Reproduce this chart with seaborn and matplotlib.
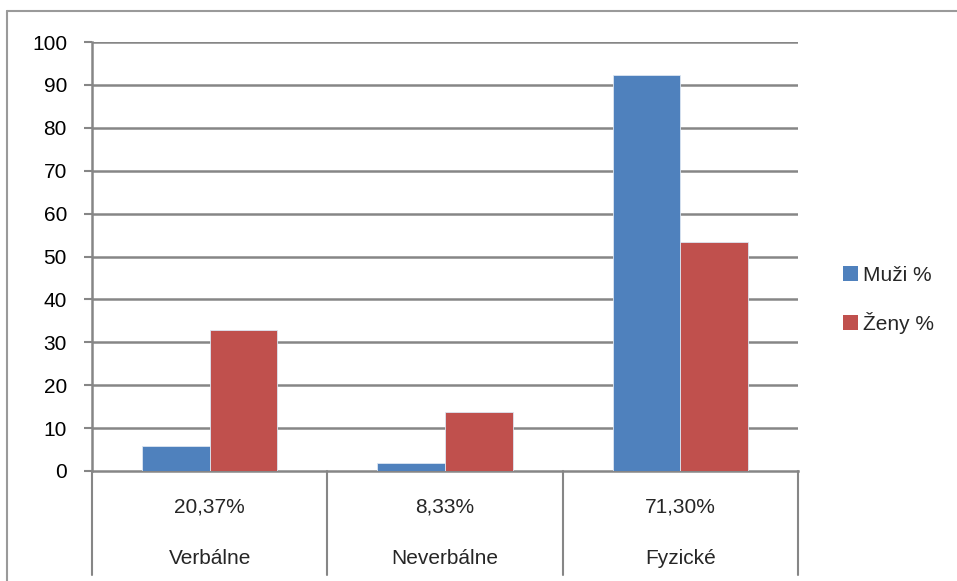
import matplotlib
matplotlib.use("Agg")
import matplotlib.pyplot as plt
import matplotlib.transforms as mtransforms
from matplotlib.patches import Patch
from matplotlib.lines import Line2D
import seaborn as sns
import pandas as pd

categories = ["Verbálne", "Neverbálne", "Fyzické"]
shares = ["20,37%", "8,33%", "71,30%"]
series_names = ["Muži %", "Ženy %"]
muzi = [5.9, 1.9, 92.2]
zeny = [32.8, 13.8, 53.4]
y_ticks = list(range(0, 101, 10))

colors = ["#4F81BD", "#C0504D"]
grid_gray = "#868686"

sns.set_theme(style="white")
plt.rcParams["font.family"] = ["Liberation Sans", "DejaVu Sans"]
FS = 15

df = pd.DataFrame({
    "kategoria": categories * 2,
    "pohlavie": [series_names[0]] * len(categories) + [series_names[1]] * len(categories),
    "hodnota": muzi + zeny,
})

fig = plt.figure(figsize=(9.57, 5.81), dpi=100)
ax = fig.add_axes([92 / 957, 1 - 471 / 581, (798 - 92) / 957, (471 - 42) / 581])

sns.barplot(data=df, x="kategoria", y="hodnota", hue="pohlavie",
            order=categories, hue_order=series_names, palette=colors,
            width=0.575, gap=0, saturation=1, ax=ax,
            edgecolor="#dce6f2", linewidth=0.6, zorder=3)
ax.get_legend().remove()

ax.set_ylim(0, 100)
ax.set_xlim(-0.5, len(categories) - 0.5)
ax.set_yticks(y_ticks)
ax.set_yticklabels([str(t) for t in y_ticks], fontsize=FS, color="black")
ax.set_xticks([])
ax.set_xlabel("")
ax.set_ylabel("")
ax.tick_params(axis="y", length=6, width=1.5, color=grid_gray, direction="out", pad=12, left=True)

# horizontal gridlines
for t in y_ticks[1:]:
    ax.axhline(t, color=grid_gray, lw=1.8, zorder=1)

for s in ["top", "right"]:
    ax.spines[s].set_visible(False)
for s in ["left", "bottom"]:
    ax.spines[s].set_color(grid_gray)
    ax.spines[s].set_linewidth(1.8)

# category table below the axis
trans = mtransforms.blended_transform_factory(ax.transData, ax.transAxes)
for b in range(len(categories) + 1):
    ax.add_line(Line2D([b - 0.5, b - 0.5], [0, -0.242], transform=trans,
                       color=grid_gray, lw=1.5, clip_on=False))
for i, (cat, sh) in enumerate(zip(categories, shares)):
    ax.text(i, -0.084, sh, transform=trans, ha="center", va="center", fontsize=FS)
    ax.text(i, -0.205, cat, transform=trans, ha="center", va="center", fontsize=FS)

# outer chart frame
fig.add_artist(Line2D([7 / 957, 1.0], [1 - 11 / 581, 1 - 11 / 581],
                      transform=fig.transFigure, color="#9a9a9a", lw=1.5))
fig.add_artist(Line2D([7 / 957, 7 / 957], [0.0, 1 - 11 / 581],
                      transform=fig.transFigure, color="#9a9a9a", lw=1.5))

handles = [Patch(facecolor=c, edgecolor="none") for c in colors]
fig.legend(handles, series_names, loc="center left", bbox_to_anchor=(843 / 957, 1 - 300 / 581),
           frameon=False, fontsize=FS, handlelength=0.7, handleheight=0.7,
           handletextpad=0.25, labelspacing=1.3, borderpad=0, borderaxespad=0)

fig.savefig("out.png", dpi=100)
